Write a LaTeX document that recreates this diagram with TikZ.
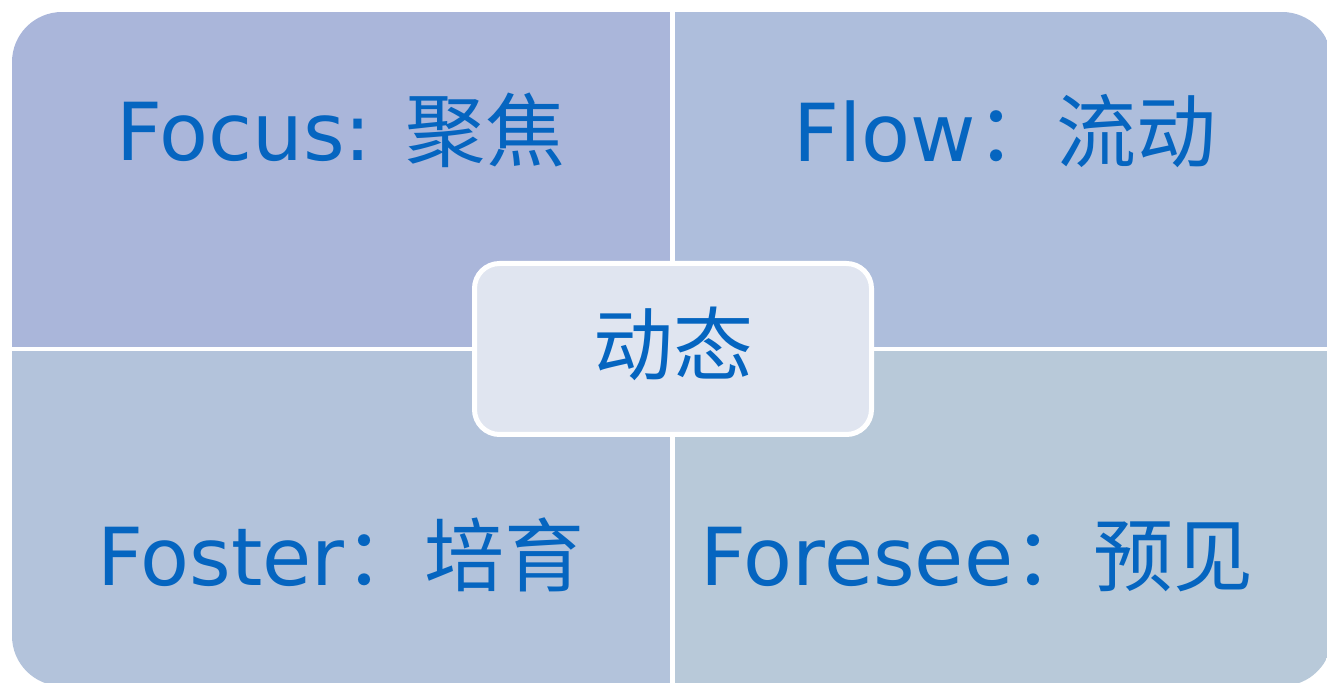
\documentclass[tikz,border=0pt]{standalone}
\usepackage{fontspec}
\setmainfont{DejaVu Sans}
\newfontfamily\cjk{Noto Sans CJK SC}
\definecolor{tlblue}{HTML}{AAB6DA}
\definecolor{trblue}{HTML}{AEBEDC}
\definecolor{blblue}{HTML}{B3C3DB}
\definecolor{brblue}{HTML}{B8C9D9}
\definecolor{hubfill}{HTML}{E0E5F0}
\definecolor{txtblue}{HTML}{0565C0}
\tikzstyle{quad}=[shape=rectangle,
                  inner sep=0pt,
                  minimum width=329pt,
                  minimum height=167.5pt]
\tikzstyle{lbl}=[anchor=base,
                 inner sep=0pt,
                 text=txtblue,
                 font=\fontsize{40}{48}\selectfont]
\tikzstyle{hub}=[shape=rectangle,
                 rounded corners=12.5pt,
                 draw=white,
                 line width=2.5pt,
                 fill=hubfill,
                 minimum width=198.5pt,
                 minimum height=85.5pt,
                 text=txtblue,
                 font=\fontsize{40}{48}\selectfont]

\begin{document}
\begin{tikzpicture}[x=0.5pt,y=-0.5pt]
\useasboundingbox (0,0) rectangle (1327,683);

% four quadrants, clipped to the rounded outline
\begin{scope}
\clip[rounded corners=25pt] (12,12) rectangle (1332,686);
\node[quad,fill=tlblue] (focus)   at (341,179.25)    {};
\node[quad,fill=trblue] (flow)    at (1003.5,179.25) {};
\node[quad,fill=blblue] (foster)  at (341,518.75)    {};
\node[quad,fill=brblue] (foresee) at (1003.5,518.75) {};
\end{scope}

% quadrant labels
\node[lbl] (focustxt)   at (341,161)  {Focus: {\cjk 聚焦}};
\node[lbl] (flowtxt)    at (1005,162) {Flow{\cjk ：流动}};
\node[lbl] (fostertxt)  at (341,585)  {Foster{\cjk ：培育}};
\node[lbl] (foreseetxt) at (977,585)  {Foresee{\cjk ：预见}};

% centre box
\node[hub] (dyn) at (673,349) {};
\node[inner sep=0pt,text=txtblue,font=\fontsize{40}{48}\selectfont] (dyntxt) at (673,344) {\cjk 动态};
\end{tikzpicture}
\end{document}
